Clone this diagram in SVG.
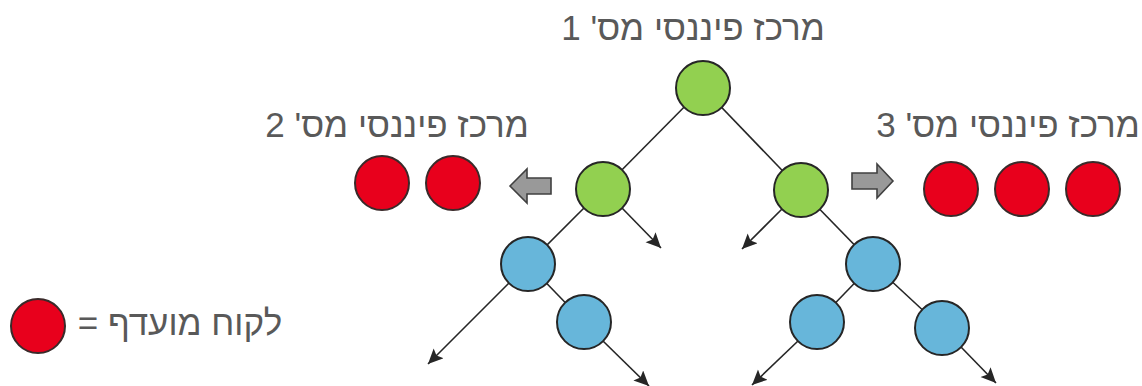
<svg xmlns="http://www.w3.org/2000/svg" width="1142" height="386" viewBox="0 0 1142 386">
<defs>
<style>
.t{font-family:"Liberation Sans","DejaVu Sans",sans-serif;font-size:35px;fill:#595959;}
.ln{stroke:#262626;stroke-width:1.6;fill:none;}
.g{fill:#92D050;stroke:#262626;stroke-width:2;}
.b{fill:#67B6DA;stroke:#262626;stroke-width:2;}
.r{fill:#E8001C;stroke:#3a2a2a;stroke-width:2;}
.ga{fill:#999999;stroke:#404040;stroke-width:1.6;stroke-linejoin:miter;}
</style>
<marker id="ah" markerUnits="userSpaceOnUse" markerWidth="18" markerHeight="16" refX="15" refY="7" orient="auto">
<path d="M0,0 L15,7 L0,14 L3,7 Z" fill="#262626"/>
</marker>
</defs>
<rect width="1142" height="386" fill="#ffffff"/>
<g id="labels">
<text class="t" x="693" y="40" direction="rtl" text-anchor="middle">מרכז פיננסי מס' 1</text>
<text class="t" x="397" y="137" direction="rtl" text-anchor="middle">מרכז פיננסי מס' 2</text>
<text class="t" x="1008" y="137" direction="rtl" text-anchor="middle">מרכז פיננסי מס' 3</text>
<text class="t" x="180" y="335" direction="rtl" text-anchor="middle">לקוח מועדף =</text>
</g>
<g id="connectors">
<line class="ln" x1="703" y1="88" x2="603" y2="189"/>
<line class="ln" x1="703" y1="88" x2="801" y2="190"/>
<line class="ln" x1="603" y1="189" x2="528" y2="264"/>
<line class="ln" x1="528" y1="264" x2="584" y2="322"/>
<line class="ln" x1="801" y1="190" x2="873" y2="264"/>
<line class="ln" x1="873" y1="264" x2="817" y2="322"/>
<line class="ln" x1="873" y1="264" x2="942" y2="328"/>
<line class="ln" x1="622" y1="208" x2="661" y2="248" marker-end="url(#ah)"/>
<line class="ln" x1="782" y1="209" x2="742" y2="249" marker-end="url(#ah)"/>
<line class="ln" x1="509" y1="283" x2="428" y2="364" marker-end="url(#ah)"/>
<line class="ln" x1="603" y1="341" x2="649" y2="386" marker-end="url(#ah)"/>
<line class="ln" x1="798" y1="341" x2="752" y2="385" marker-end="url(#ah)"/>
<line class="ln" x1="961" y1="347" x2="996" y2="383" marker-end="url(#ah)"/>
</g>
<g id="root"><circle class="g" cx="703" cy="88" r="27"/></g>
<g id="green-left"><circle class="g" cx="603" cy="189" r="27"/></g>
<g id="green-right"><circle class="g" cx="801" cy="190" r="27"/></g>
<g id="blue-l1"><circle class="b" cx="528" cy="264" r="27"/></g>
<g id="blue-l2"><circle class="b" cx="584" cy="322" r="27"/></g>
<g id="blue-r1"><circle class="b" cx="873" cy="264" r="27"/></g>
<g id="blue-r2"><circle class="b" cx="817" cy="322" r="27"/></g>
<g id="blue-r3"><circle class="b" cx="942" cy="328" r="27"/></g>
<g id="center2">
<circle class="r" cx="382" cy="183" r="27"/>
<circle class="r" cx="453" cy="183" r="27"/>
</g>
<g id="center3">
<circle class="r" cx="951" cy="189" r="27"/>
<circle class="r" cx="1022" cy="189" r="27"/>
<circle class="r" cx="1093" cy="189" r="27"/>
</g>
<g id="legend"><circle class="r" cx="38" cy="326" r="27"/></g>
<g id="arrow-left"><path class="ga" d="M510,186 L527,169 L527,178 L551,178 L551,194 L527,194 L527,203 Z"/></g>
<g id="arrow-right"><path class="ga" d="M893,181 L877,164 L877,173 L852,173 L852,189 L877,189 L877,198 Z"/></g>
</svg>
